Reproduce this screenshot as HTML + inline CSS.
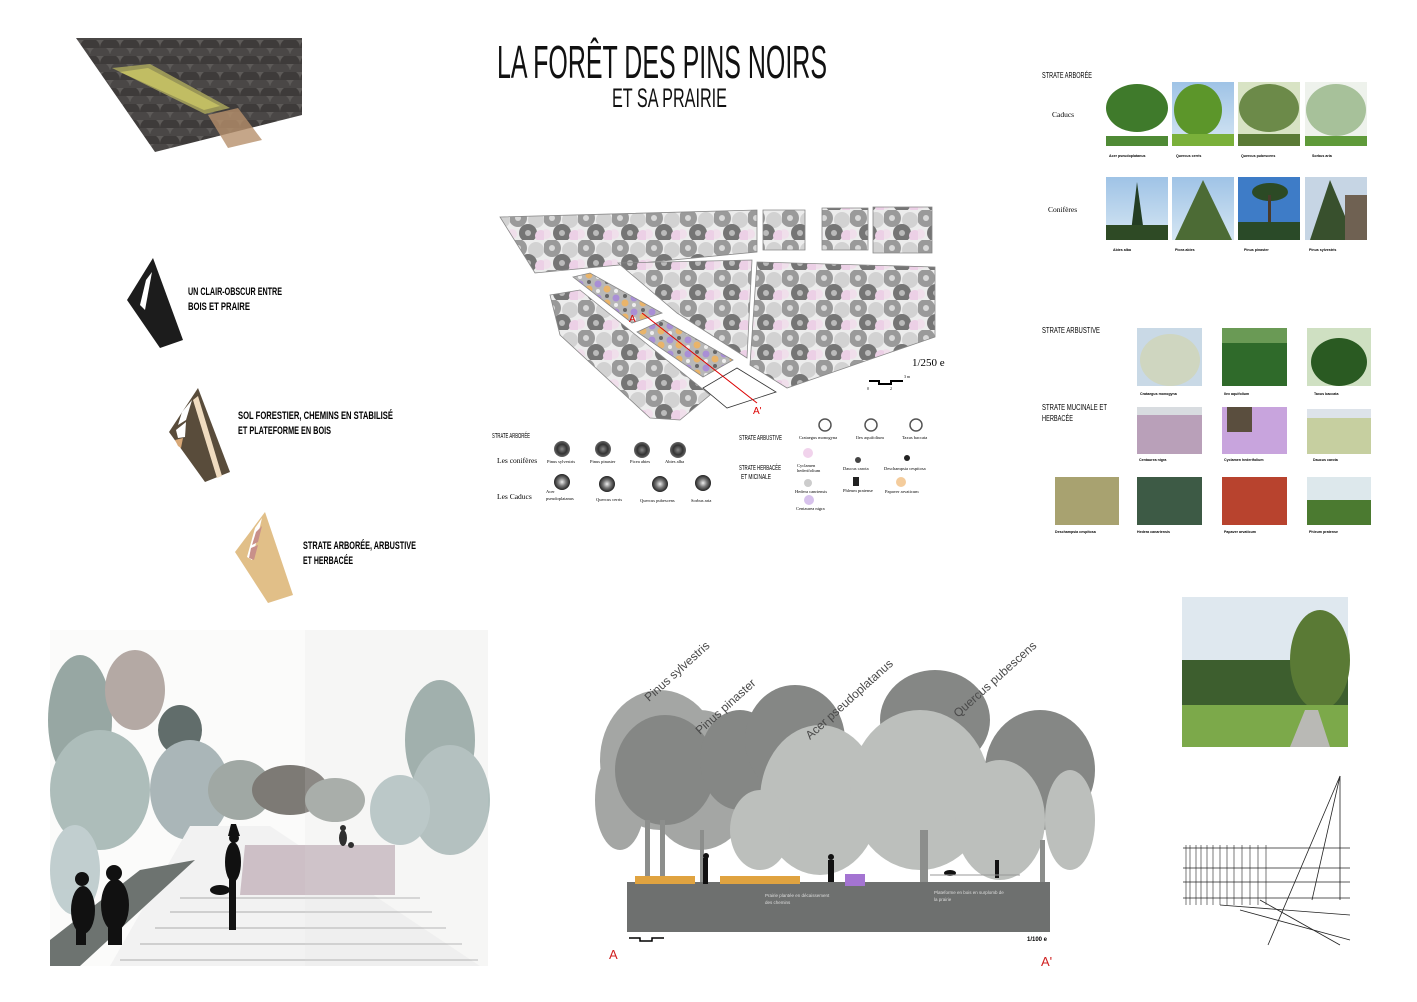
<!DOCTYPE html>
<html><head><meta charset="utf-8"><style>
html,body{margin:0;padding:0;background:#fff;}
svg{display:block}
.c{font-family:"Liberation Sans",sans-serif;font-weight:bold;}
.s{font-family:"Liberation Serif",serif;}
</style></head><body>
<svg width="1417" height="1002" viewBox="0 0 1417 1002" xmlns="http://www.w3.org/2000/svg">
<defs>
<pattern id="tp" width="34" height="30" patternUnits="userSpaceOnUse">
<rect width="34" height="30" fill="#ececec"/>
<circle cx="8" cy="8" r="9" fill="#9a9a9a"/>
<circle cx="8" cy="8" r="3" fill="#d8d8d8"/>
<circle cx="26" cy="10" r="8" fill="#d2d2d2"/>
<circle cx="18" cy="23" r="9" fill="#757575"/>
<circle cx="18" cy="23" r="3" fill="#bbb"/>
<circle cx="31" cy="26" r="6" fill="#ecd0e6"/>
<circle cx="2" cy="24" r="5" fill="#f0dfeb"/>
</pattern>
<pattern id="bed" width="18" height="14" patternUnits="userSpaceOnUse">
<rect width="18" height="14" fill="#b8b8b8"/>
<circle cx="4" cy="4" r="3.5" fill="#a98fd6"/>
<circle cx="13" cy="9" r="3.5" fill="#e9b46a"/>
<circle cx="13" cy="2" r="2" fill="#666"/>
<circle cx="4" cy="11" r="2" fill="#eee"/>
</pattern>
<pattern id="scale" width="20" height="16" patternUnits="userSpaceOnUse">
<rect width="20" height="16" fill="#5d5a58"/>
<path d="M0 16 A10 10 0 0 1 20 16" fill="#3e3b3a"/>
<path d="M-10 8 A10 10 0 0 1 10 8 M10 8 A10 10 0 0 1 30 8" fill="#4a4746"/>
</pattern>
<linearGradient id="sky" x1="0" y1="0" x2="0" y2="1"><stop offset="0" stop-color="#9fc3e6"/><stop offset="1" stop-color="#d5e6f3"/></linearGradient>
<radialGradient id="leg" cx="0.5" cy="0.5" r="0.5"><stop offset="0" stop-color="#888"/><stop offset="0.6" stop-color="#333"/><stop offset="1" stop-color="#666"/></radialGradient>
<radialGradient id="leg2" cx="0.5" cy="0.5" r="0.5"><stop offset="0" stop-color="#eee"/><stop offset="0.5" stop-color="#777"/><stop offset="1" stop-color="#222"/></radialGradient>
</defs>

<!-- top-left axonometric -->
<polygon points="76,38 302,38 302,115 155,152" fill="url(#scale)"/>
<polygon points="112,68 150,64 230,108 205,114" fill="#a3a05a" opacity="0.9"/>
<polygon points="120,72 148,68 220,106 204,110" fill="#c1bd63"/>
<polygon points="208,115 238,108 262,140 228,148" fill="#b7906b" opacity="0.8"/>

<!-- title -->
<text x="497" y="78" class="c" font-size="46" textLength="330" lengthAdjust="spacingAndGlyphs" fill="#111" style="font-weight:normal">LA FORÊT DES PINS NOIRS</text>
<text x="612" y="107" class="c" font-size="27" textLength="115" lengthAdjust="spacingAndGlyphs" fill="#111" style="font-weight:normal">ET SA PRAIRIE</text>

<!-- icons -->
<polygon points="127,300 153,258 183,340 160,348" fill="#1c1c1c"/>
<polygon points="146,280 152,272 145,310 140,305" fill="#fff"/>
<text x="188" y="295" class="c" font-size="11" textLength="94" lengthAdjust="spacingAndGlyphs">UN CLAIR-OBSCUR ENTRE</text>
<text x="188" y="310" class="c" font-size="11" textLength="62" lengthAdjust="spacingAndGlyphs">BOIS ET PRAIRE</text>

<polygon points="169,432 198,388 230,472 205,482" fill="#594c3b"/>
<polygon points="193,400 198,396 222,476 217,478" fill="#f0dcc0"/>
<polygon points="182,412 192,400 186,420 178,425" fill="#fff"/>
<polygon points="176,430 186,422 185,437 178,438" fill="#fff"/>
<polygon points="175,440 183,438 181,448 178,446" fill="#d8a877"/>
<text x="238" y="419" class="c" font-size="11" textLength="155" lengthAdjust="spacingAndGlyphs">SOL FORESTIER, CHEMINS EN STABILISÉ</text>
<text x="238" y="434" class="c" font-size="11" textLength="93" lengthAdjust="spacingAndGlyphs">ET PLATEFORME EN BOIS</text>

<polygon points="235,552 265,512 293,595 268,603" fill="#e1bf88"/>
<polygon points="255,528 262,518 252,560 247,557" fill="#fff"/>
<polygon points="256,532 262,526 258,542 252,545" fill="#c8908a"/>
<polygon points="251,548 258,545 254,560 249,558" fill="#c8908a"/>
<text x="303" y="549" class="c" font-size="11" textLength="113" lengthAdjust="spacingAndGlyphs">STRATE ARBORÉE, ARBUSTIVE</text>
<text x="303" y="564" class="c" font-size="11" textLength="50" lengthAdjust="spacingAndGlyphs">ET HERBACÉE</text>

<!-- plan -->
<g stroke="#888" stroke-width="0.8">
<polygon points="500,217 757,210 757,252 535,273" fill="url(#tp)"/>
<polygon points="763,210 805,210 805,250 763,250" fill="url(#tp)"/>
<polygon points="822,208 868,208 868,250 822,250" fill="url(#tp)"/>
<polygon points="873,207 932,207 932,253 873,253" fill="url(#tp)"/>
<polygon points="618,263 752,260 747,358 677,313" fill="url(#tp)"/>
<polygon points="757,262 935,267 935,337 787,388 750,365" fill="url(#tp)"/>
<polygon points="550,295 580,290 710,395 680,420 650,418 560,335" fill="url(#tp)"/>
<polygon points="573,277 590,273 662,313 632,323" fill="url(#bed)"/>
<polygon points="637,332 663,320 733,360 703,377" fill="url(#bed)"/>
<polygon points="703,388 737,368 776,392 727,408" fill="#fff" stroke="#333"/>
</g>
<line x1="642" y1="313" x2="757" y2="403" stroke="#d00" stroke-width="1"/>
<text x="629" y="322" class="c" font-size="10" fill="#d00" style="font-weight:normal">A</text>
<text x="753" y="414" class="c" font-size="10" fill="#d00" style="font-weight:normal">A'</text>
<text x="912" y="366" class="s" font-size="11">1/250 e</text>
<path d="M869 381 H879 V384 H891 V381 H903" stroke="#000" stroke-width="2" fill="none"/>
<text x="867" y="390" font-size="4" class="s">0</text><text x="890" y="390" font-size="4" class="s">2</text><text x="904" y="378" font-size="4" class="s">3 m</text>

<!-- plan legend -->
<text x="492" y="438" class="c" font-size="7" textLength="38" lengthAdjust="spacingAndGlyphs" style="font-weight:normal">STRATE ARBORÉE</text>
<text x="497" y="463" class="s" font-size="7.5">Les conifères</text>
<text x="497" y="499" class="s" font-size="7.5">Les Caducs</text>
<g>
<circle cx="562" cy="449" r="8" fill="url(#leg)"/><circle cx="603" cy="449" r="8" fill="url(#leg)"/><circle cx="642" cy="450" r="8" fill="url(#leg)"/><circle cx="678" cy="450" r="8" fill="url(#leg)"/>
<circle cx="562" cy="482" r="8" fill="url(#leg2)"/><circle cx="607" cy="484" r="8" fill="url(#leg2)"/><circle cx="660" cy="484" r="8" fill="url(#leg2)"/><circle cx="703" cy="483" r="8" fill="url(#leg2)"/>
</g>
<g class="s" font-size="4.5">
<text x="547" y="463">Pinus sylvestris</text><text x="590" y="463">Pinus pinaster</text><text x="630" y="463">Picea abies</text><text x="665" y="463">Abies alba</text>
<text x="546" y="493">Acer</text><text x="546" y="500">pseudoplatanus</text><text x="596" y="501">Quercus cerris</text><text x="640" y="502">Quercus pubescens</text><text x="691" y="502">Sorbus aria</text>
</g>
<text x="739" y="440" class="c" font-size="7" textLength="43" lengthAdjust="spacingAndGlyphs" style="font-weight:normal">STRATE ARBUSTIVE</text>
<text x="739" y="470" class="c" font-size="7" textLength="42" lengthAdjust="spacingAndGlyphs" style="font-weight:normal">STRATE HERBACÉE</text>
<text x="741" y="479" class="c" font-size="7" textLength="30" lengthAdjust="spacingAndGlyphs" style="font-weight:normal">ET MICINALE</text>
<g fill="#fff" stroke="#555" stroke-width="1.5">
<circle cx="825" cy="425" r="6"/><circle cx="871" cy="425" r="6"/><circle cx="916" cy="425" r="6"/>
</g>
<circle cx="808" cy="453" r="5" fill="#f1d3ec"/>
<circle cx="858" cy="460" r="3" fill="#444"/>
<circle cx="907" cy="458" r="3" fill="#222"/>
<circle cx="808" cy="483" r="4" fill="#ccc"/>
<rect x="853" y="477" width="6" height="9" fill="#222"/>
<circle cx="901" cy="482" r="5" fill="#f4cc9c"/>
<circle cx="809" cy="500" r="5" fill="#d7c2ec"/>
<g class="s" font-size="4.5">
<text x="799" y="439">Crataegus monogyna</text><text x="856" y="439">Ilex aquifolium</text><text x="902" y="439">Taxus baccata</text>
<text x="797" y="467">Cyclamen</text><text x="797" y="472">hederifolium</text><text x="843" y="470">Daucus carota</text><text x="884" y="470">Deschampsia cespitosa</text>
<text x="795" y="493">Hedera canriensis</text><text x="843" y="492">Phleum pratense</text><text x="885" y="493">Papaver arvaticum</text>
<text x="796" y="510">Centaurea nigra</text>
</g>

<!-- right photos: strate arborée -->
<text x="1042" y="78" class="c" font-size="8" textLength="50" lengthAdjust="spacingAndGlyphs" style="font-weight:normal">STRATE ARBORÉE</text>
<text x="1052" y="117" class="s" font-size="7.5">Caducs</text>
<text x="1048" y="212" class="s" font-size="7.5">Conifères</text>
<g>
<rect x="1106" y="82" width="62" height="64" fill="#fff"/><ellipse cx="1137" cy="108" rx="31" ry="24" fill="#3f7a2b"/><rect x="1106" y="136" width="62" height="10" fill="#4f8a35"/>
<rect x="1172" y="82" width="62" height="64" fill="url(#sky)"/><ellipse cx="1198" cy="110" rx="24" ry="26" fill="#5c962a"/><rect x="1172" y="134" width="62" height="12" fill="#7ab03a"/>
<rect x="1238" y="82" width="62" height="64" fill="#d8e3c4"/><ellipse cx="1269" cy="108" rx="30" ry="24" fill="#6c8a49"/><rect x="1238" y="134" width="62" height="12" fill="#5a7a35"/>
<rect x="1305" y="82" width="62" height="64" fill="#eef2ec"/><ellipse cx="1336" cy="110" rx="30" ry="26" fill="#a7c19a"/><rect x="1305" y="136" width="62" height="10" fill="#5f9a3a"/>
<rect x="1106" y="177" width="62" height="63" fill="url(#sky)"/><polygon points="1137,182 1130,240 1145,240" fill="#233d23"/><rect x="1106" y="225" width="62" height="15" fill="#2e4a25"/>
<rect x="1172" y="177" width="62" height="63" fill="url(#sky)"/><polygon points="1203,180 1175,240 1232,240" fill="#4c6b35"/>
<rect x="1238" y="177" width="62" height="63" fill="#3e7cc7"/><ellipse cx="1270" cy="192" rx="18" ry="9" fill="#2c4a25"/><rect x="1268" y="195" width="3" height="40" fill="#4a3a2a"/><rect x="1238" y="222" width="62" height="18" fill="#2a4a28"/>
<rect x="1305" y="177" width="62" height="63" fill="#c6d5e4"/><polygon points="1330,180 1310,240 1355,240" fill="#38502d"/><rect x="1345" y="195" width="22" height="45" fill="#6f6152"/>
</g>
<g font-size="3.6" class="c">
<text x="1109" y="157">Acer pseudoplatanus</text><text x="1176" y="157">Quercus cerris</text><text x="1241" y="157">Quercus pubescens</text><text x="1312" y="157">Sorbus aria</text>
<text x="1113" y="251">Abies alba</text><text x="1175" y="251">Picea abies</text><text x="1244" y="251">Pinus pinaster</text><text x="1309" y="251">Pinus sylvestris</text>
</g>

<text x="1042" y="333" class="c" font-size="8" textLength="58" lengthAdjust="spacingAndGlyphs" style="font-weight:normal">STRATE ARBUSTIVE</text>
<text x="1042" y="410" class="c" font-size="8" textLength="65" lengthAdjust="spacingAndGlyphs" style="font-weight:normal">STRATE MUCINALE ET</text>
<text x="1042" y="421" class="c" font-size="8" textLength="31" lengthAdjust="spacingAndGlyphs" style="font-weight:normal">HERBACÉE</text>
<g>
<rect x="1137" y="328" width="65" height="58" fill="#c9d9e6"/><ellipse cx="1170" cy="360" rx="30" ry="26" fill="#cfd6c0"/>
<rect x="1222" y="328" width="65" height="58" fill="#2f6a2a"/><rect x="1222" y="328" width="65" height="15" fill="#6a9a55"/>
<rect x="1307" y="328" width="64" height="58" fill="#cfe0c2"/><ellipse cx="1339" cy="362" rx="28" ry="24" fill="#2a5a22"/>
<rect x="1137" y="407" width="65" height="47" fill="#b9a0b9"/><rect x="1137" y="407" width="65" height="8" fill="#d8dce0"/>
<rect x="1222" y="407" width="65" height="47" fill="#c8a4dd"/><rect x="1227" y="407" width="25" height="25" fill="#5a4e3e"/>
<rect x="1307" y="409" width="64" height="45" fill="#c6cfa0"/><rect x="1307" y="409" width="64" height="9" fill="#dde3ea"/>
<rect x="1055" y="477" width="64" height="48" fill="#a8a270"/>
<rect x="1137" y="477" width="65" height="48" fill="#3d5a45"/>
<rect x="1222" y="477" width="65" height="48" fill="#b8432e"/>
<rect x="1307" y="477" width="64" height="48" fill="#dde8ec"/><rect x="1307" y="500" width="64" height="25" fill="#4b7a30"/>
</g>
<g font-size="3.6" class="c">
<text x="1140" y="395">Crataegus monogyna</text><text x="1224" y="395">Ilex aquifolium</text><text x="1314" y="395">Taxus baccata</text>
<text x="1139" y="461">Centaurea nigra</text><text x="1224" y="461">Cyclamen hederifolium</text><text x="1313" y="461">Daucus carota</text>
<text x="1055" y="533">Deschampsia cespitosa</text><text x="1137" y="533">Hedera canariensis</text><text x="1224" y="533">Papaver arvaticum</text><text x="1309" y="533">Phleum pratense</text>
</g>

<!-- watercolor perspective -->
<g>
<rect x="50" y="630" width="438" height="336" fill="#fbfbfa"/>
<g opacity="0.8">
<ellipse cx="80" cy="720" rx="32" ry="65" fill="#7f938e"/>
<ellipse cx="135" cy="690" rx="30" ry="40" fill="#a3958f"/>
<ellipse cx="100" cy="790" rx="50" ry="60" fill="#9aaeab"/>
<ellipse cx="180" cy="730" rx="22" ry="25" fill="#3b4a48"/>
<ellipse cx="190" cy="790" rx="40" ry="50" fill="#96a6a8"/>
<ellipse cx="240" cy="790" rx="32" ry="30" fill="#8a948f"/>
<ellipse cx="290" cy="790" rx="38" ry="25" fill="#5e5a54"/>
<ellipse cx="335" cy="800" rx="30" ry="22" fill="#8a918b"/>
<ellipse cx="440" cy="740" rx="35" ry="60" fill="#7f9490"/>
<ellipse cx="450" cy="800" rx="40" ry="55" fill="#9aaeac"/>
<ellipse cx="400" cy="810" rx="30" ry="35" fill="#a6b8b9"/>
<ellipse cx="75" cy="870" rx="25" ry="45" fill="#b3c4c5"/>
</g>
<polygon points="110,966 190,826 270,826 480,966" fill="#f2f2f2"/>
<polygon points="245,845 395,845 395,895 240,895" fill="#cdbfc6"/>
<g stroke="#666" stroke-width="0.6"><line x1="180" y1="898" x2="420" y2="898"/><line x1="170" y1="912" x2="432" y2="912"/><line x1="155" y1="928" x2="446" y2="928"/><line x1="140" y1="944" x2="462" y2="944"/><line x1="120" y1="960" x2="478" y2="960"/></g>
<polygon points="50,940 140,870 195,860 80,966 50,966" fill="#6d7370"/>
<g fill="#111">
<ellipse cx="83" cy="910" rx="12" ry="24"/><circle cx="82" cy="879" r="7"/><rect x="76" y="925" width="10" height="20"/>
<ellipse cx="115" cy="905" rx="14" ry="26"/><circle cx="114" cy="873" r="8"/><rect x="108" y="925" width="14" height="20"/>
<ellipse cx="233" cy="862" rx="8" ry="20"/><circle cx="234" cy="838" r="5"/><rect x="229" y="870" width="7" height="60"/><polygon points="231,824 236,824 240,836 228,836"/><ellipse cx="220" cy="890" rx="10" ry="5"/>
<ellipse cx="343" cy="838" rx="4" ry="8"/><circle cx="343" cy="828" r="3"/><circle cx="351" cy="845" r="3"/>
</g>
<rect x="305" y="630" width="183" height="336" fill="#ddd" opacity="0.15"/>
</g>

<!-- section -->
<g>
<g fill="#a4a6a4">
<ellipse cx="660" cy="760" rx="60" ry="70"/><ellipse cx="620" cy="800" rx="25" ry="50"/><ellipse cx="700" cy="780" rx="55" ry="70"/>
</g>
<g fill="#858785">
<ellipse cx="665" cy="770" rx="50" ry="55"/><ellipse cx="740" cy="760" rx="40" ry="50"/>
<ellipse cx="795" cy="740" rx="50" ry="55"/><ellipse cx="935" cy="720" rx="55" ry="50"/><ellipse cx="1040" cy="770" rx="55" ry="60"/>
</g>
<g fill="#bcbfbc">
<ellipse cx="820" cy="800" rx="60" ry="75"/><ellipse cx="920" cy="790" rx="70" ry="80"/><ellipse cx="1000" cy="820" rx="45" ry="60"/>
<ellipse cx="1070" cy="820" rx="25" ry="50"/><ellipse cx="760" cy="830" rx="30" ry="40"/>
</g>
<g fill="#8c8e8c"><rect x="645" y="820" width="5" height="65"/><rect x="660" y="820" width="5" height="65"/><rect x="700" y="830" width="4" height="55"/><rect x="920" y="830" width="8" height="55"/><rect x="1040" y="840" width="5" height="45"/></g>
<rect x="627" y="882" width="423" height="50" fill="#6e706f"/>
<rect x="635" y="876" width="60" height="8" fill="#e0a340"/><rect x="720" y="876" width="80" height="8" fill="#e0a340"/><rect x="845" y="874" width="20" height="12" fill="#a474d2"/>
<g fill="#111"><rect x="703" y="858" width="5" height="26"/><circle cx="706" cy="856" r="3"/><rect x="828" y="860" width="6" height="22"/><circle cx="831" cy="857" r="3"/><rect x="995" y="860" width="4" height="18"/><ellipse cx="950" cy="873" rx="6" ry="3"/></g>
<line x1="930" y1="875" x2="1020" y2="875" stroke="#999"/>
<g fill="#ddd" font-size="4.5" font-family="Liberation Sans,sans-serif"><text x="765" y="897">Prairie plantée en décaissement</text><text x="765" y="904">des chemins</text><text x="934" y="894">Plateforme en bois en surplomb de</text><text x="934" y="901">la prairie</text></g>
<g fill="#4a4a4a" font-family="Liberation Sans,sans-serif" font-size="12">
<text transform="translate(649,702) rotate(-42)">Pinus sylvestris</text>
<text transform="translate(700,735) rotate(-42)">Pinus pinaster</text>
<text transform="translate(810,740) rotate(-42)">Acer pseudoplatanus</text>
<text transform="translate(958,718) rotate(-42)">Quercus pubescens</text>
</g>
<path d="M629 938 H640 V941 H652 V938 H664" stroke="#000" stroke-width="1.5" fill="none"/>
<text x="1027" y="941" class="c" font-size="6">1/100 e</text>
<text x="609" y="959" class="c" font-size="13" fill="#d02020" style="font-weight:normal">A</text>
<text x="1041" y="966" class="c" font-size="13" fill="#d02020" style="font-weight:normal">A'</text>
</g>

<!-- render photo -->
<rect x="1182" y="597" width="166" height="150" fill="#dfe8ef"/>
<rect x="1182" y="660" width="166" height="45" fill="#3d5e2e"/>
<ellipse cx="1320" cy="660" rx="30" ry="50" fill="#5a7a35"/>
<rect x="1182" y="705" width="166" height="42" fill="#7ca94a"/>
<polygon points="1290,747 1305,710 1318,710 1330,747" fill="#b9b9b5"/>

<!-- line drawing -->
<g stroke="#222" stroke-width="0.8" fill="none">
<line x1="1340" y1="776" x2="1268" y2="945"/><line x1="1340" y1="776" x2="1340" y2="900"/><line x1="1340" y1="776" x2="1312" y2="900"/>
<line x1="1183" y1="848" x2="1350" y2="848"/><line x1="1183" y1="868" x2="1350" y2="868"/><line x1="1183" y1="882" x2="1350" y2="882"/><line x1="1183" y1="898" x2="1350" y2="898"/>
<line x1="1240" y1="910" x2="1350" y2="940"/><line x1="1260" y1="900" x2="1340" y2="945"/><line x1="1220" y1="905" x2="1350" y2="915"/>
</g>
<g stroke="#222" stroke-width="0.6">
<line x1="1186" y1="845" x2="1186" y2="905"/><line x1="1190" y1="845" x2="1190" y2="905"/><line x1="1196" y1="845" x2="1196" y2="905"/><line x1="1201" y1="845" x2="1201" y2="905"/><line x1="1207" y1="845" x2="1207" y2="905"/><line x1="1213" y1="845" x2="1213" y2="905"/><line x1="1220" y1="845" x2="1220" y2="905"/><line x1="1227" y1="845" x2="1227" y2="905"/><line x1="1234" y1="845" x2="1234" y2="905"/><line x1="1242" y1="845" x2="1242" y2="905"/><line x1="1250" y1="845" x2="1250" y2="905"/><line x1="1258" y1="845" x2="1258" y2="905"/><line x1="1266" y1="845" x2="1266" y2="905"/>
</g>
</svg>
</body></html>
